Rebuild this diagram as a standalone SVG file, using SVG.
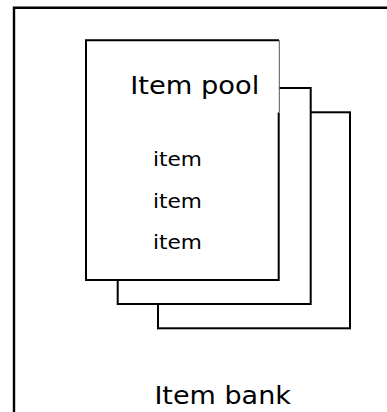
<svg xmlns="http://www.w3.org/2000/svg" width="387" height="412" viewBox="0 0 387 412">
<style>
.box{fill:#fff;stroke:#000;stroke-width:2}
.lbl{font-family:"DejaVu Sans","Verdana",sans-serif;fill:#000}
</style>
<rect x="0" y="0" width="387" height="412" fill="#fff"/>
<g id="item-bank">
<path d="M14,412 V7.8 H387" fill="none" stroke="#000" stroke-width="2.4"/>
<text class="lbl" x="154.4" y="403.5" font-size="25" textLength="136.5" lengthAdjust="spacingAndGlyphs">Item bank</text>
</g>
<g id="pool-back">
<rect class="box" x="158" y="112.3" width="192" height="216"/>
</g>
<g id="pool-middle">
<rect class="box" x="117.7" y="88" width="193" height="216"/>
</g>
<g id="item-pool">
<rect x="86" y="40.3" width="193" height="239.7" fill="#fff"/>
<path d="M278.7,112.5 V280 H86 V40.3 H279" fill="none" stroke="#000" stroke-width="2"/>
<path d="M279.3,40.3 V112.5" fill="none" stroke="#555" stroke-width="1"/>
<text class="lbl" x="130.3" y="93.5" font-size="25" textLength="129" lengthAdjust="spacingAndGlyphs">Item pool</text>
<text class="lbl" x="153" y="166" font-size="20" textLength="49" lengthAdjust="spacingAndGlyphs">item</text>
<text class="lbl" x="153" y="207.5" font-size="20" textLength="49" lengthAdjust="spacingAndGlyphs">item</text>
<text class="lbl" x="153" y="249" font-size="20" textLength="49" lengthAdjust="spacingAndGlyphs">item</text>
</g>
<g id="connectors"></g>
</svg>
